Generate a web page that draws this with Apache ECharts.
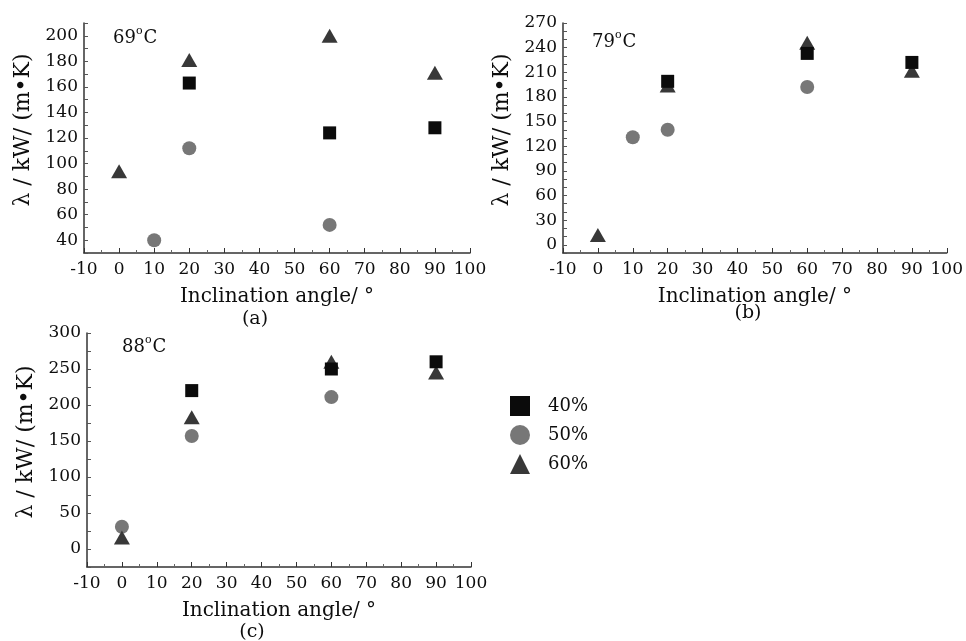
<!DOCTYPE html>
<html>
<head>
<meta charset="utf-8">
<script src="https://cdn.jsdelivr.net/npm/echarts@6/dist/echarts.min.js"></script>
<style>
html,body{margin:0;padding:0;background:#fff;}
#chart{width:966px;height:641px;}
</style>
</head>
<body>
<div id="chart"></div>
<script>
// ---- data ----
const seriesNames = ['40%', '50%', '60%'];
const panelTemps = ['69', '79', '88'];
const panelTags = ['(a)', '(b)', '(c)'];
const xAxisName = 'Inclination angle/ °';
const yAxisName = 'λ / kW/ (m•K)';

// Panel (a) 69 °C
const a40x = [20, 60, 90],        a40y = [163, 124, 128];
const a50x = [10, 20, 60],        a50y = [40, 112, 52];
const a60x = [0, 20, 60, 90],     a60y = [94, 181, 200, 171];
// Panel (b) 79 °C
const b40x = [20, 60, 90],        b40y = [199, 233, 222];
const b50x = [10, 20, 60],        b50y = [131, 140, 192];
const b60x = [0, 20, 60, 90],     b60y = [12, 194, 246, 212];
// Panel (c) 88 °C
const c40x = [20, 60, 90],        c40y = [220, 250, 260];
const c50x = [0, 20, 60],         c50y = [31, 157, 211];
const c60x = [0, 20, 60, 90],     c60y = [16, 183, 260, 245];

// axis ranges / label steps
const xRange = [-10, 100], xStep = 10;
const yRanges = [[30, 210], [-10, 270], [-25, 300]];
const yTickSteps = [10, 10, 25];
const yLabelSteps = [20, 30, 50];
const yLabelMin = [40, 0, 0];

// ---- helpers ----
const pairs = (xs, ys) => xs.map((x, i) => [x, ys[i]]);
const FONT = "'DejaVu Serif','Liberation Serif',serif";
const TXT = '#0d0d0d';
const AX = '#333';

const grids = [
  {left: 84, top: 23, width: 386, height: 230},
  {left: 563, top: 23, width: 384, height: 230},
  {left: 87, top: 333, width: 384, height: 234}
];

const xAxes = grids.map((g, i) => ({
  type: 'value', gridIndex: i, min: xRange[0], max: xRange[1], interval: xStep,
  name: xAxisName, nameLocation: 'middle', nameGap: 34,
  nameTextStyle: {fontFamily: FONT, fontSize: 20, color: TXT},
  axisLine: {show: true, onZero: false, lineStyle: {color: AX, width: 1.5}},
  axisTick: {show: true, inside: true, length: 5, lineStyle: {color: AX}},
  minorTick: {show: true, splitNumber: 2, length: 3, lineStyle: {color: '#666'}},
  axisLabel: {fontFamily: FONT, fontSize: 17, color: TXT, margin: 8},
  splitLine: {show: false}
}));

const yAxes = grids.map((g, i) => ({
  type: 'value', gridIndex: i, min: yRanges[i][0], max: yRanges[i][1], interval: yTickSteps[i],
  name: yAxisName, nameLocation: 'middle', nameGap: 50, nameRotate: 90,
  nameTextStyle: {fontFamily: FONT, fontSize: 22, color: TXT, padding: [0, 0, 0, 16]},
  axisLine: {show: true, onZero: false, lineStyle: {color: AX, width: 1.5}},
  axisTick: {show: true, inside: true, length: 4, lineStyle: {color: '#555'}},
  axisLabel: {
    fontFamily: FONT, fontSize: 17, color: TXT, margin: 6,
    formatter: v => (Math.round(v) % yLabelSteps[i] === 0 && v >= yLabelMin[i]) ? String(v) : ''
  },
  splitLine: {show: false}
}));

const styles = {
  '40%': {symbol: 'rect', symbolSize: 13, color: '#0b0b0b', z: 4},
  '50%': {symbol: 'circle', symbolSize: 14, color: '#777777', z: 2},
  '60%': {symbol: 'triangle', symbolSize: [16, 14], color: '#383838', z: 3}
};

const panelData = [
  [pairs(a40x, a40y), pairs(a50x, a50y), pairs(a60x, a60y)],
  [pairs(b40x, b40y), pairs(b50x, b50y), pairs(b60x, b60y)],
  [pairs(c40x, c40y), pairs(c50x, c50y), pairs(c60x, c60y)]
];

const series = [];
panelData.forEach((sets, p) => {
  sets.forEach((data, k) => {
    const nm = seriesNames[k];
    const s = styles[nm];
    series.push({
      type: 'scatter', name: nm, xAxisIndex: p, yAxisIndex: p,
      symbol: s.symbol, symbolSize: s.symbolSize, z: s.z,
      itemStyle: {color: s.color, opacity: 1},
      data: data
    });
  });
});

const tempPos = [[113, 26], [592, 30], [122, 335]];
const tagPos = [[255, 319], [748, 313], [252, 632]];

const graphics = [];
panelTemps.forEach((t, i) => {
  graphics.push({
    type: 'text', left: tempPos[i][0], top: tempPos[i][1],
    style: {
      text: '{n|' + t + '}{s|o}{n|C}',
      rich: {
        n: {fontFamily: FONT, fontSize: 18, fill: TXT, verticalAlign: 'bottom', lineHeight: 21},
        s: {fontFamily: FONT, fontSize: 11, fill: TXT, verticalAlign: 'top', lineHeight: 21, padding: [0, 1, 9, 0]}
      }
    }
  });
});
panelTags.forEach((t, i) => {
  graphics.push({
    type: 'text', x: tagPos[i][0], y: tagPos[i][1],
    style: {text: t, fontFamily: FONT, fontSize: 19, fill: TXT, align: 'center', verticalAlign: 'middle'}
  });
});

const chart = echarts.init(document.getElementById('chart'), null, {renderer: 'canvas'});
chart.setOption({
  animation: false,
  backgroundColor: '#fff',
  grid: grids,
  xAxis: xAxes,
  yAxis: yAxes,
  legend: {
    data: seriesNames, orient: 'vertical', left: 505, top: 391,
    itemWidth: 20, itemHeight: 20, itemGap: 9,
    textStyle: {fontFamily: FONT, fontSize: 18, color: TXT, padding: [0, 0, 0, 13]}
  },
  graphic: graphics,
  series: series
});
</script>
</body>
</html>
